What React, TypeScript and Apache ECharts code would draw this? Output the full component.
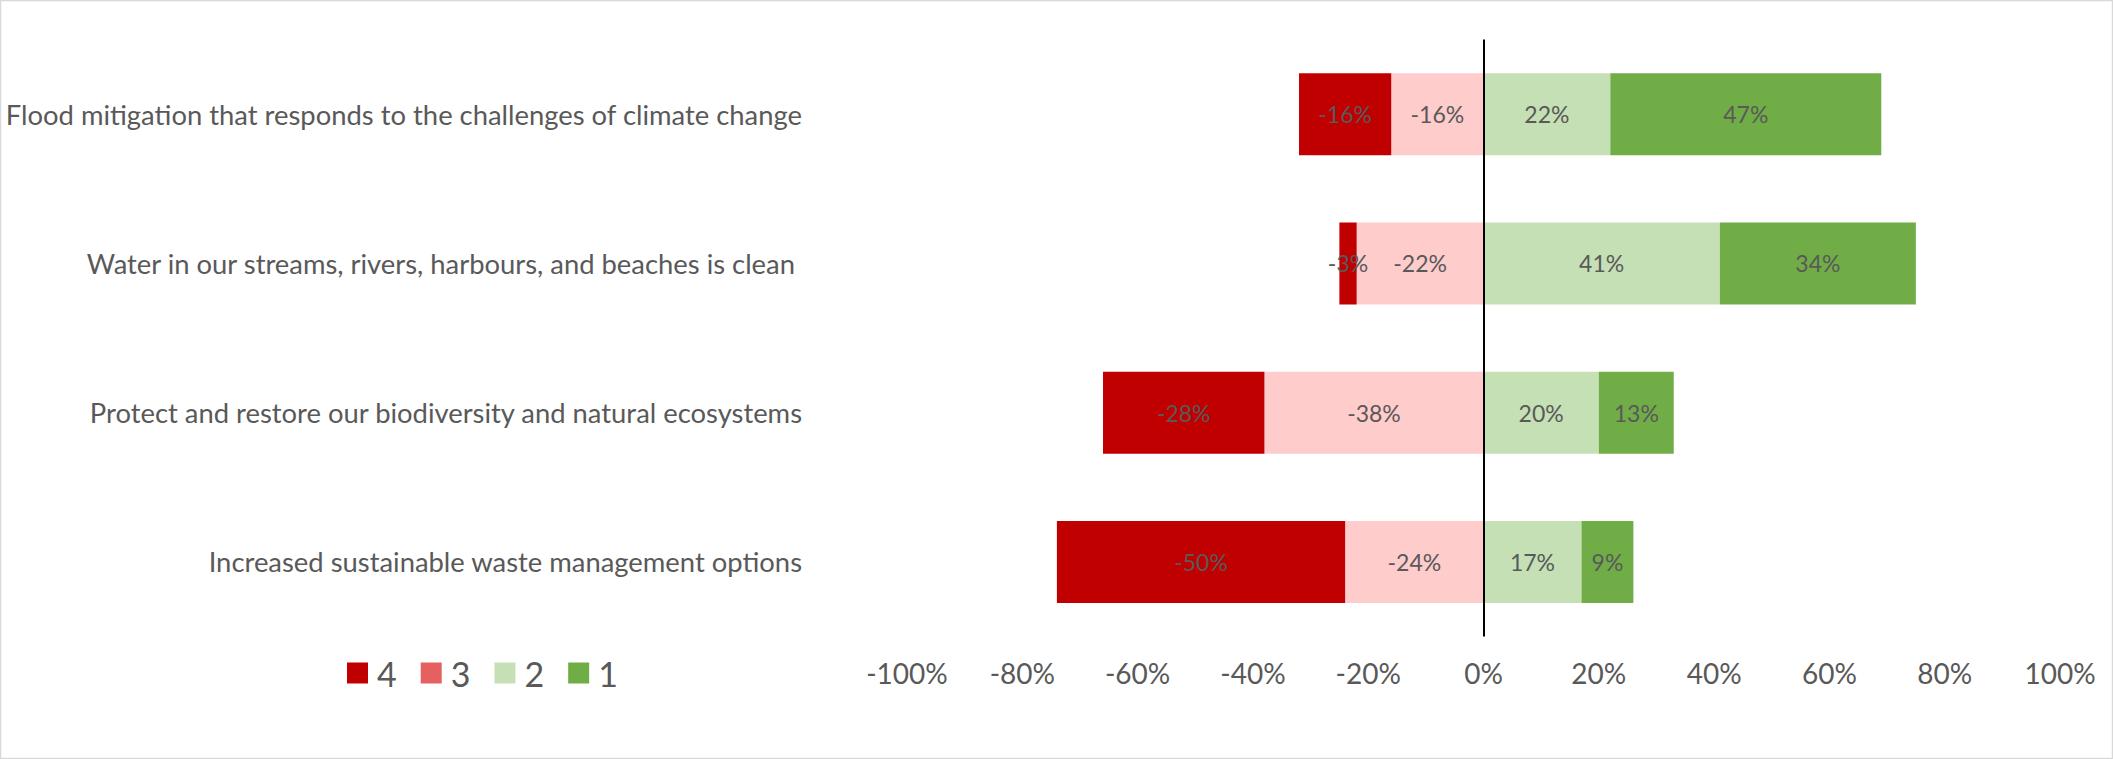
import React, { useEffect, useRef } from "react";
import * as echarts from "echarts";

const categories = [
  "Flood mitigation that responds to the challenges of climate change",
  "Water in our streams, rivers, harbours, and beaches is clean ",
  "Protect and restore our biodiversity and natural ecosystems",
  "Increased sustainable waste management options",
];
const series4 = [-16, -3, -28, -50];
const series3 = [-16, -22, -38, -24];
const series2 = [22, 41, 20, 17];
const series1 = [47, 34, 13, 9];
const legendOrder = ["4", "3", "2", "1"];
const xTicks = { min: -100, max: 100, interval: 20 };

const FONT = "Lato";
const TEXT = "#595959";

export default function App() {
  const ref = useRef<HTMLDivElement>(null);
  useEffect(() => {
    if (!ref.current) return;
    const chart = echarts.init(ref.current, undefined, { renderer: "svg" });
    const label = {
      show: true,
      position: "inside",
      color: TEXT,
      fontFamily: FONT,
      fontSize: 23,
      formatter: (p: any) => `${p.value}%`,
    };
    const mk = (name: string, data: number[], color: string, extra: any = {}) => ({
      name,
      type: "bar",
      stack: "total",
      data,
      barWidth: 82,
      itemStyle: { color },
      label,
      emphasis: { disabled: true },
      ...extra,
    });
    chart.setOption({
      animation: false,
      graphic: [
        {
          type: "rect",
          shape: { x: 0.5, y: 0.5, width: 2112, height: 758 },
          style: { fill: "none", stroke: "#D9D9D9", lineWidth: 1.5 },
          silent: true,
        },
      ],
      grid: { left: 907, right: 53, top: 39.5, bottom: 122.5, containLabel: false },
      legend: {
        left: 347,
        top: 656,
        padding: 0,
        itemWidth: 21,
        itemHeight: 21,
        itemGap: 24,
        icon: "rect",
        textStyle: { color: TEXT, fontFamily: FONT, fontSize: 34, padding: [0, 0, 0, 4] },
        data: [
          { name: legendOrder[0], itemStyle: { color: "#C00000" } },
          { name: legendOrder[1], itemStyle: { color: "#E66060" } },
          { name: legendOrder[2], itemStyle: { color: "#C5E0B4" } },
          { name: legendOrder[3], itemStyle: { color: "#70AD47" } },
        ],
      },
      xAxis: {
        type: "value",
        min: xTicks.min,
        max: xTicks.max,
        interval: xTicks.interval,
        axisLine: { show: false },
        axisTick: { show: false },
        splitLine: { show: false },
        axisLabel: {
          color: TEXT,
          fontFamily: FONT,
          fontSize: 28,
          margin: 22,
          formatter: (v: number) => `${v}%`,
        },
      },
      yAxis: {
        type: "category",
        data: categories,
        inverse: true,
        axisLine: { show: false },
        axisTick: { show: false },
        axisLabel: { color: TEXT, fontFamily: FONT, fontSize: 27.4, margin: 105 },
      },
      series: [
        mk("3", series3, "#FFCCCC"),
        mk("4", series4, "#C00000"),
        mk("2", series2, "#C5E0B4"),
        mk("1", series1, "#70AD47", {
          markLine: {
            silent: true,
            symbol: "none",
            label: { show: false },
            lineStyle: { color: "#000000", width: 2, type: "solid" },
            data: [{ xAxis: 0 }],
          },
        }),
      ],
    });
    return () => chart.dispose();
  }, []);
  return (
    <div
      ref={ref}
      style={{ position: "absolute", left: 0, top: 0, width: 2113, height: 759, background: "#fff" }}
    />
  );
}
